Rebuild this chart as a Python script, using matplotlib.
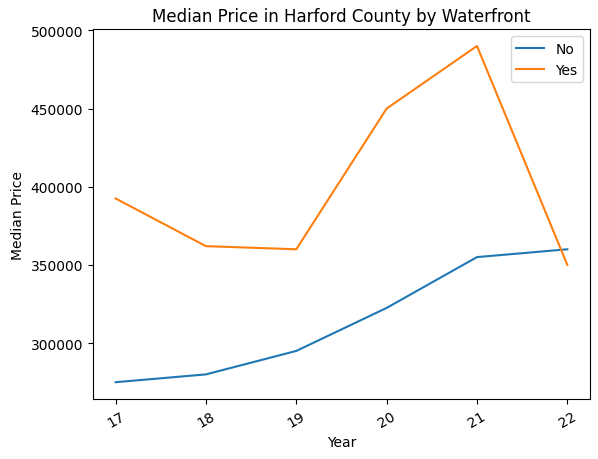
import matplotlib.pyplot as plt

# Data
years = ['17', '18', '19', '20', '21', '22']
no_waterfront = [275000, 280000, 295000, 322500, 355000, 360000]
yes_waterfront = [392500, 362000, 360000, 450000, 490000, 350000]

fig = plt.figure(figsize=(5.98, 4.6), dpi=100)
ax = fig.add_axes([0.1555, 0.1304, 0.831, 0.804])

ax.plot(years, no_waterfront, label='No')
ax.plot(years, yes_waterfront, label='Yes')

ax.set_title('Median Price in Harford County by Waterfront')
ax.set_xlabel('Year')
ax.set_ylabel('Median Price')
ax.legend()
plt.setp(ax.get_xticklabels(), rotation=30)

fig.savefig('out.png', dpi=100)
